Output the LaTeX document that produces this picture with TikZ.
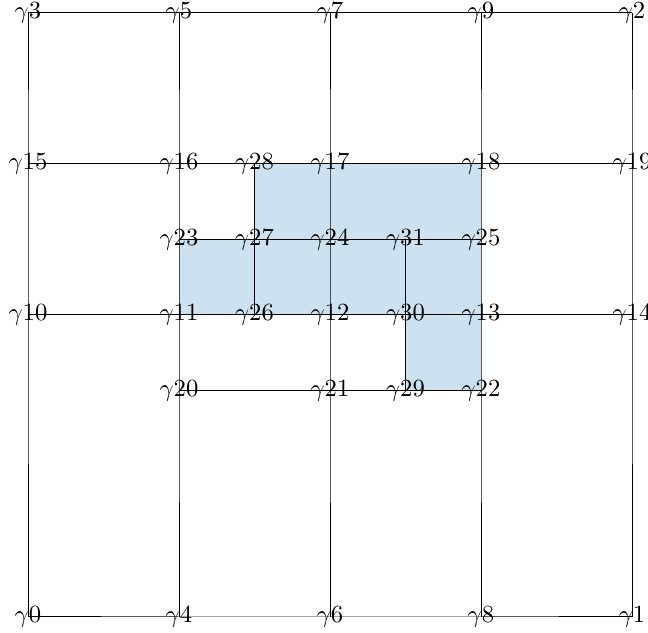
\documentclass[tikz,border=0pt]{standalone}
\usepackage{amsmath,amssymb}
\usepackage{tikz}
\usetikzlibrary{calc}
\definecolor{CellBlue}{RGB}{204,226,240}
\tikzset{lab/.style={inner sep=0pt,font=\normalsize}, edge/.style={draw=black,line width=0.4pt}, cell/.style={fill=CellBlue}}

\begin{document}
\begin{tikzpicture}[x=2.15cm,y=2.15cm]
\useasboundingbox (-0.1854,-0.106) rectangle (4.106,4.086);
\coordinate (g0) at (0,0);
\coordinate (g1) at (4,0);
\coordinate (g2) at (4,4);
\coordinate (g3) at (0,4);
\coordinate (g4) at (1,0);
\coordinate (g5) at (1,4);
\coordinate (g6) at (2,0);
\coordinate (g7) at (2,4);
\coordinate (g8) at (3,0);
\coordinate (g9) at (3,4);
\coordinate (g10) at (0,2);
\coordinate (g11) at (1,2);
\coordinate (g12) at (2,2);
\coordinate (g13) at (3,2);
\coordinate (g14) at (4,2);
\coordinate (g15) at (0,3);
\coordinate (g16) at (1,3);
\coordinate (g17) at (2,3);
\coordinate (g18) at (3,3);
\coordinate (g19) at (4,3);
\coordinate (g20) at (1,1.5);
\coordinate (g21) at (2,1.5);
\coordinate (g22) at (3,1.5);
\coordinate (g23) at (1,2.5);
\coordinate (g24) at (2,2.5);
\coordinate (g25) at (3,2.5);
\coordinate (g26) at (1.5,2);
\coordinate (g27) at (1.5,2.5);
\coordinate (g28) at (1.5,3);
\coordinate (g29) at (2.5,1.5);
\coordinate (g30) at (2.5,2);
\coordinate (g31) at (2.5,2.5);
% shaded cells
\fill[cell] (g28)--(g18)--(g22)--(g29)--(g30)--(g11)--(g23)--(g27)--cycle;
% horizontal edges
\draw[edge] (g3)--(g5)--(g7)--(g9)--(g2);
\draw[edge] (g15)--(g16)--(g28)--(g17)--(g18)--(g19);
\draw[edge] (g23)--(g27)--(g24)--(g31)--(g25);
\draw[edge] (g10)--(g11)--(g26)--(g12)--(g30)--(g13)--(g14);
\draw[edge] (g20)--(g21)--(g29)--(g22);
\draw[edge] (g0)--(g4)--(g6)--(g8)--(g1);
% vertical edges
\draw[edge] (g0)--(g10)--(g15)--(g3);
\draw[edge] (g4)--(g20)--(g11)--(g23)--(g16)--(g5);
\draw[edge] (g26)--(g27)--(g28);
\draw[edge] (g6)--(g21)--(g12)--(g24)--(g17)--(g7);
\draw[edge] (g29)--(g30)--(g31);
\draw[edge] (g8)--(g22)--(g13)--(g25)--(g18)--(g9);
\draw[edge] (g1)--(g14)--(g19)--(g2);
% labels
\foreach \i in {0,...,31}
  \node[lab] (n\i) at (g\i) {$\gamma\i$};
\end{tikzpicture}
\end{document}
